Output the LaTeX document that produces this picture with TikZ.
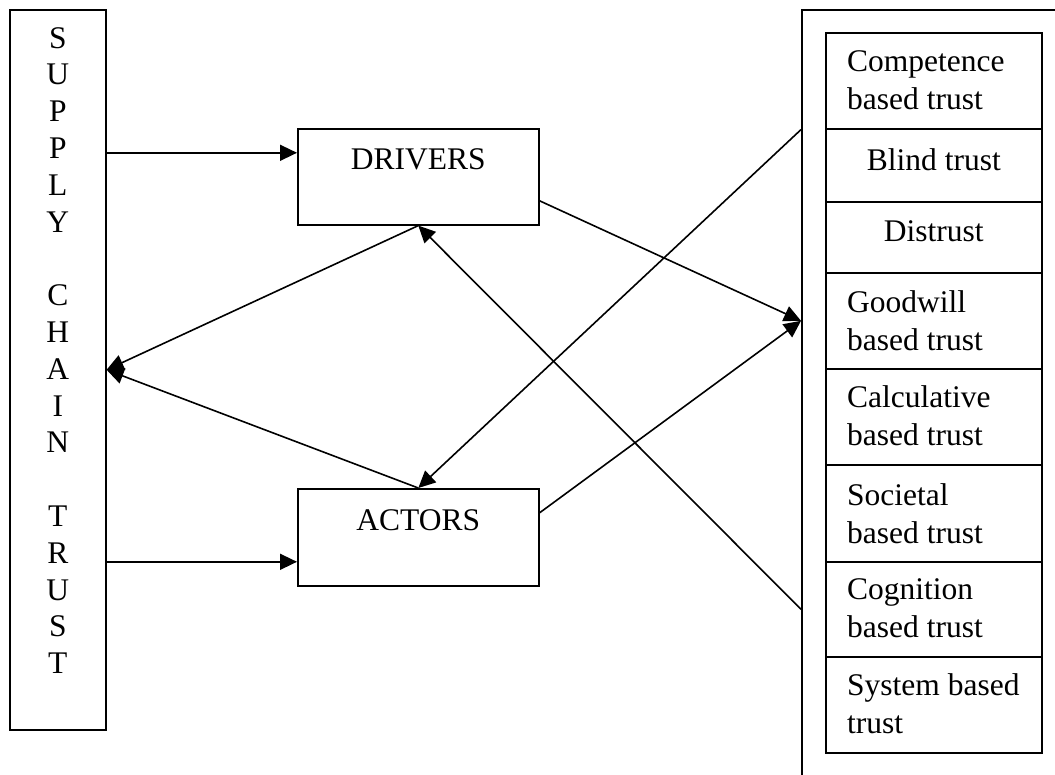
\documentclass[tikz,border=0pt]{standalone}
\usepackage{fontspec}
\setmainfont{Liberation Serif}
\usetikzlibrary{arrows.meta}
\begin{document}
\begin{tikzpicture}[x=1pt,y=-1pt,
  box/.style={draw, line width=1.6pt, rectangle, inner sep=0pt, anchor=north west},
  txt/.style={inner sep=0pt, font=\fontsize{31.5}{38}\selectfont},
  arr/.style={line width=1.6pt, -{Triangle[length=17pt,width=16pt]}}]
\useasboundingbox (0,0) rectangle (1055,774);
\clip (0,0) rectangle (1055,774);

% main blocks
\node[box, minimum width=96pt, minimum height=720pt] (sct) at (9,9) {};
\node[box, minimum width=241pt, minimum height=96pt] (drivers) at (297,128) {};
\node[box, minimum width=241pt, minimum height=97pt] (actors) at (297,488) {};

% panel of trust types
\node[box, minimum width=300pt, minimum height=800pt] (panel) at (801,9) {};
\node[box, minimum width=216pt, minimum height=96pt] (r1) at (825,32) {};
\node[box, minimum width=216pt, minimum height=73pt] (r2) at (825,128) {};
\node[box, minimum width=216pt, minimum height=71pt] (r3) at (825,201) {};
\node[box, minimum width=216pt, minimum height=96pt] (r4) at (825,272) {};
\node[box, minimum width=216pt, minimum height=96pt] (r5) at (825,368) {};
\node[box, minimum width=216pt, minimum height=97pt] (r6) at (825,464) {};
\node[box, minimum width=216pt, minimum height=95pt] (r7) at (825,561) {};
\node[box, minimum width=216pt, minimum height=96pt] (r8) at (825,656) {};

% labels
\node[txt, anchor=north, align=center, font=\fontsize{31.5}{36.8}\selectfont] (sct-lbl)
  at ([yshift=-18pt]sct.north)
  {S\\U\\P\\P\\L\\Y\\[36.8pt]C\\H\\A\\I\\N\\[36.8pt]T\\R\\U\\S\\T};
\node[txt, anchor=base] (drivers-lbl) at ([yshift=-41pt]drivers.north) {DRIVERS};
\node[txt, anchor=base] (actors-lbl) at ([yshift=-42pt]actors.north) {ACTORS};

\node[txt, anchor=north west, align=left] (t1) at ([xshift=22pt,yshift=-18.5pt]r1.north west) {Competence\\based trust};
\node[txt, anchor=north] (t2) at ([yshift=-20.5pt]r2.north) {Blind trust};
\node[txt, anchor=north] (t3) at ([yshift=-19.5pt]r3.north) {Distrust};
\node[txt, anchor=north west, align=left] (t4) at ([xshift=22pt,yshift=-18.5pt]r4.north west) {Goodwill\\based trust};
\node[txt, anchor=north west, align=left] (t5) at ([xshift=22pt,yshift=-17.5pt]r5.north west) {Calculative\\based trust};
\node[txt, anchor=north west, align=left] (t6) at ([xshift=22pt,yshift=-19.5pt]r6.north west) {Societal\\based trust};
\node[txt, anchor=north west, align=left] (t7) at ([xshift=22pt,yshift=-17.5pt]r7.north west) {Cognition\\based trust};
\node[txt, anchor=north west, align=left] (t8) at ([xshift=22pt,yshift=-17.5pt]r8.north west) {System based\\trust};

% connectors
\path ([yshift=24pt]drivers.west) coordinate (din);
\path ([yshift=-24.5pt]actors.west) coordinate (ain);
\draw[arr] (sct.east |- din) -- (din);
\draw[arr] (sct.east |- ain) -- (ain);
\draw[arr] (drivers.south) -- (sct.east);
\draw[arr] (actors.north) -- (sct.east);
\draw[arr] ([yshift=-24pt]drivers.east) -- (panel.west |- r4.center);
\draw[arr] ([yshift=24.5pt]actors.east) -- (panel.west |- r4.center);
\draw[arr] (panel.west |- r1.south) -- (actors.north);
\draw[arr] (panel.west |- r7.center) -- (drivers.south);
\end{tikzpicture}
\end{document}
